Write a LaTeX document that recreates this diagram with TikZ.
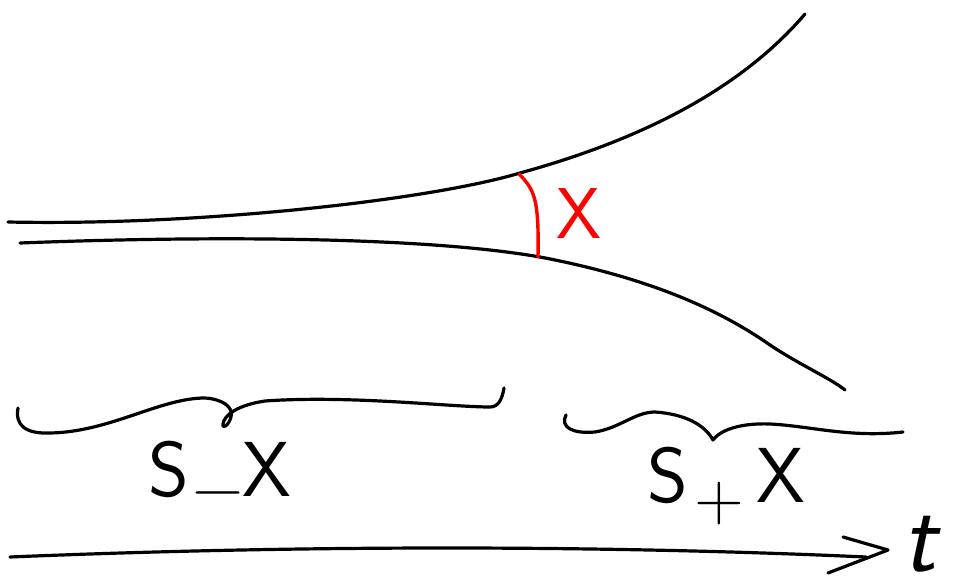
\documentclass[tikz,border=0pt]{standalone}
\usepackage{fontspec}
\newcommand{\lowsub}[3]{\raisebox{#2}{\fontsize{#1}{#1}\selectfont #3}}
\begin{document}
\begin{tikzpicture}[x=1pt,y=-1pt,line cap=round,line join=round,
  ink/.style={line width=3.2pt,black},
  redink/.style={line width=3.4pt,red},
  bigtext/.style={inner sep=0pt,font=\fontsize{78}{78}\selectfont\sffamily},
  redtext/.style={inner sep=0pt,text=red,font=\fontsize{72}{72}\selectfont\sffamily},
  ttext/.style={inner sep=0pt,font=\fontsize{100}{100}\selectfont\sffamily\slshape}]
\useasboundingbox (0,0) rectangle (954,578);
% upper curve
\draw[ink] (8,222) .. controls (200,226) and (430,200) .. (520,173)
  .. controls (640,140) and (740,90) .. (805,14);
% lower curve
\draw[ink] (20,243) .. controls (200,236) and (420,236) .. (540,257)
  .. controls (650,278) and (720,310) .. (770,345)
  .. controls (800,365) and (830,378) .. (845,390);
% red angle arc
\draw[redink] (519,174) .. controls (535,190) and (539,200) .. (538,257);
\node[redtext,anchor=base west] (xlab) at (556,238) {X};
% left brace
\draw[ink] (18,408) .. controls (15,425) and (25,434) .. (50,433)
  .. controls (110,432) and (160,398) .. (205,398)
  .. controls (222,399) and (234,407) .. (231,417)
  .. controls (229,425) and (222,430) .. (223,424)
  .. controls (224,415) and (238,405) .. (265,401)
  .. controls (350,395) and (450,407) .. (490,407)
  .. controls (498,407) and (502,400) .. (504,388);
\node[bigtext,anchor=base west] (sminus) at (148,496)
  {S\kern4pt\lowsub{70pt}{-14pt}{−}\kern-2pt X};
% right brace
\draw[ink] (566,415) .. controls (560,427) and (572,434) .. (595,432)
  .. controls (620,428) and (635,412) .. (655,412)
  .. controls (685,414) and (705,425) .. (713,440)
  .. controls (722,428) and (745,423) .. (770,424)
  .. controls (810,426) and (850,438) .. (903,432);
\node[bigtext,anchor=base west] (splus) at (647,502)
  {S\kern7pt\lowsub{68pt}{-18pt}{+}\kern12pt X};
% time axis
\draw[ink] (10,557) .. controls (300,545) and (600,545) .. (866,557);
\draw[ink] (843,537) -- (888,550) -- (828,573);
\node[ttext,anchor=base west] (tlab) at (902,571) {t\/};
\end{tikzpicture}
\end{document}
